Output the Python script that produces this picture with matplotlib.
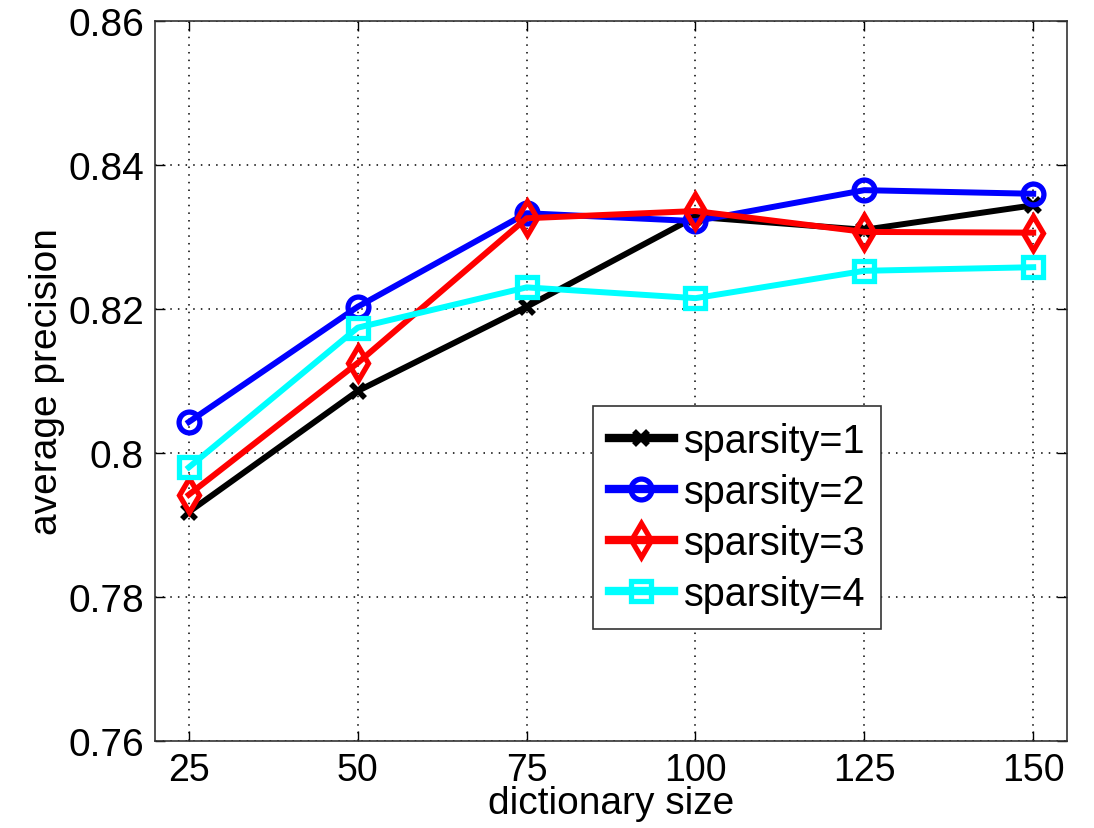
import numpy as np
import matplotlib.pyplot as plt

plt.rcParams['font.family'] = ['Liberation Sans', 'DejaVu Sans']

dict_size = [25, 50, 75, 100, 125, 150]
sp1 = [0.7918, 0.8086, 0.8203, 0.8328, 0.8310, 0.8344]
sp2 = [0.8043, 0.8203, 0.8333, 0.8322, 0.8365, 0.8360]
sp3 = [0.7942, 0.8125, 0.8326, 0.8336, 0.8307, 0.8306]
sp4 = [0.7980, 0.8174, 0.8230, 0.8215, 0.8253, 0.8258]
labels = ['sparsity=1', 'sparsity=2', 'sparsity=3', 'sparsity=4']
yticks = [0.76, 0.78, 0.8, 0.82, 0.84, 0.86]
ytick_labels = ['0.76', '0.78', '0.8', '0.82', '0.84', '0.86']

fig = plt.figure(figsize=(10.94, 8.29), dpi=100)
ax = fig.add_axes([0.1417, 0.105, 0.8336, 0.8685])

lw = 4.3
ax.plot(dict_size, sp1, color='k', marker='x', ms=10, mew=4, lw=lw, label=labels[0])
ax.plot(dict_size, sp2, color='b', marker='o', ms=15, mew=3.8, mfc='none', lw=lw, label=labels[1])
ax.plot(dict_size, sp3, color='r', marker='d', ms=17, mew=3.8, mfc='none', lw=lw, label=labels[2])
ax.plot(dict_size, sp4, color='cyan', marker='s', ms=14, mew=3.8, mfc='none', lw=lw, label=labels[3])

ax.set_xlim(20, 155)
ax.set_ylim(0.76, 0.86)
ax.set_xticks(dict_size)
ax.set_yticks(yticks)
ax.set_yticklabels(ytick_labels)
ax.tick_params(direction='in', top=True, right=True, labelsize=28, length=7, width=1, pad=8)
ax.tick_params(axis='x', labelsize=27)
ax.grid(True, color='k', linestyle=(0, (1, 4)), linewidth=1.1)
for s in ax.spines.values():
    s.set_linewidth(1.2)
    s.set_color('#333333')

ax.set_xlabel('dictionary size', fontsize=28, labelpad=-2)
ax.set_ylabel('average precision', fontsize=28, labelpad=2)

leg = ax.legend(loc='lower left', bbox_to_anchor=(0.48, 0.156), fontsize=28.5,
                numpoints=1, handlelength=1.65, handletextpad=0.25, labelspacing=0.33,
                borderpad=0.4, borderaxespad=0, fancybox=False, framealpha=1,
                edgecolor='#333333')
leg.get_frame().set_linewidth(1.2)
for h in leg.get_lines():
    h.set_linewidth(6)

fig.savefig('out.png', dpi=100)
